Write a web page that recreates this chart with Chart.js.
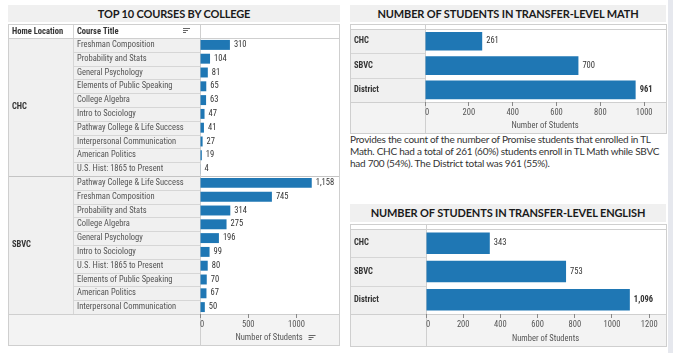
<!DOCTYPE html>
<html><head><meta charset="utf-8">
<script src="https://cdn.jsdelivr.net/npm/chart.js@4.4.0/dist/chart.umd.min.js"></script>
<style>
html,body{margin:0;padding:0;background:#fff;width:673px;height:353px;overflow:hidden;font-family:Lato,'Liberation Sans',sans-serif;}
.band{position:absolute;background:#f0f0f0;color:#1a1a1a;font-weight:bold;font-size:11px;letter-spacing:-0.15px;text-align:center;white-space:nowrap;}
canvas{position:absolute;}
#strip{position:absolute;left:668px;top:0;width:5px;height:353px;background:#e6e8ee;}
#note{position:absolute;left:350px;top:133px;font-size:10px;letter-spacing:-0.25px;line-height:12px;color:#333;white-space:nowrap;}
</style></head><body>
<div class="band" style="left:8px;top:5px;width:332px;height:17px;line-height:17px">TOP 10 COURSES BY COLLEGE</div>
<div class="band" style="left:350px;top:5px;width:316px;height:17px;line-height:17px">NUMBER OF STUDENTS IN TRANSFER-LEVEL MATH</div>
<div class="band" style="left:350px;top:204px;width:316px;height:18px;line-height:18px">NUMBER OF STUDENTS IN TRANSFER-LEVEL ENGLISH</div>
<div id="note">Provides the count of the number of Promise students that enrolled in TL<br>Math. CHC had a total of 261 (60%) students enroll in TL Math while SBVC<br>had 700 (54%). The District total was 961 (55%).</div>
<div id="strip"></div>
<canvas id="c1" width="332" height="322" style="left:8px;top:24px"></canvas>
<canvas id="c2" width="317" height="110" style="left:350px;top:24px"></canvas>
<canvas id="c3" width="317" height="123" style="left:350px;top:224px"></canvas>
<script>
// ---- data ----
const homeLocations = ['CHC', 'SBVC'];
const chcCourses = ['Freshman Composition','Probability and Stats','General Psychology','Elements of Public Speaking','College Algebra','Intro to Sociology','Pathway College & Life Success','Interpersonal Communication','American Politics','U.S. Hist: 1865 to Present'];
const chcCounts = [310,104,81,65,63,47,41,27,19,4];
const sbvcCourses = ['Pathway College & Life Success','Freshman Composition','Probability and Stats','College Algebra','General Psychology','Intro to Sociology','U.S. Hist: 1865 to Present','Elements of Public Speaking','American Politics','Interpersonal Communication'];
const sbvcCounts = [1158,745,314,275,196,99,80,70,67,50];
const courseTicks = [0,500,1000];
const mathLocations = ['CHC','SBVC','District'];
const mathCounts = [261,700,961];
const mathTicks = [0,200,400,600,800,1000];
const englishLocations = ['CHC','SBVC','District'];
const englishCounts = [343,753,1096];
const englishTicks = [0,200,400,600,800,1000,1200];

const FONT = "'Roboto Condensed', Lato, sans-serif";
const BLUE = '#1f77b4';
const CELL = '#f0f0f0', AXISBG = '#f3f3f3', LINE = '#d6d6d6', BORDER = '#cfcfcf';

function sortIcon(ctx, x, y){
  ctx.save(); ctx.strokeStyle = '#666'; ctx.lineWidth = 1;
  [[7,0],[5,2],[3,4]].forEach(([w,dy])=>{ctx.beginPath();ctx.moveTo(x, y+dy+0.5);ctx.lineTo(x+w, y+dy+0.5);ctx.stroke();});
  ctx.restore();
}
function hline(ctx,x1,x2,y,c){ctx.strokeStyle=c;ctx.lineWidth=1;ctx.beginPath();ctx.moveTo(x1,Math.round(y)+0.5);ctx.lineTo(x2,Math.round(y)+0.5);ctx.stroke();}
function vline(ctx,x,y1,y2,c){ctx.strokeStyle=c;ctx.lineWidth=1;ctx.beginPath();ctx.moveTo(Math.round(x)+0.5,y1);ctx.lineTo(Math.round(x)+0.5,y2);ctx.stroke();}

const framePlugin = {
  id: 'frame',
  beforeDraw(chart, args, o){
    const {ctx, chartArea: ca, width: W, height: H} = chart;
    const y = chart.scales.y;
    const n = chart.data.labels.length;
    const half = (y.getPixelForValue(1) - y.getPixelForValue(0)) / 2;
    ctx.save();
    ctx.fillStyle = '#fff'; ctx.fillRect(0,0,W,H);
    ctx.fillStyle = CELL; ctx.fillRect(0, ca.top, ca.left, ca.bottom - ca.top);
    ctx.fillStyle = AXISBG; ctx.fillRect(0, ca.bottom, W, H - ca.bottom);
    const sx = o.groupCol ? o.groupCol : 0;
    for (let i = 1; i < n; i++) {
      const py = y.getPixelForValue(i) - half;
      if (o.groupSize && i % o.groupSize === 0) hline(ctx, 0, W, py, '#c4c4c4');
      else hline(ctx, sx, ca.left, py, LINE);
    }
    if (o.groupCol) { vline(ctx, o.groupCol, 0, ca.bottom, LINE); }
    if (ca.top > 0) hline(ctx, 0, W, ca.top, BORDER);
    hline(ctx, 0, W, ca.bottom, BORDER);
    vline(ctx, ca.left, 0, H, BORDER);
    ctx.strokeStyle = BORDER; ctx.strokeRect(0.5, 0.5, W-1, H-1);
    ctx.restore();
  },
  afterDraw(chart, args, o){
    const {ctx, chartArea: ca} = chart;
    const y = chart.scales.y;
    ctx.save();
    ctx.fillStyle = '#333';
    ctx.font = 'bold 8.5px ' + FONT;
    ctx.textBaseline = 'middle';
    if (o.header) {
      ctx.fillText(o.header[0], 4, ca.top/2 + 0.5);
      ctx.fillText(o.header[1], o.groupCol + 4, ca.top/2 + 0.5);
      sortIcon(ctx, ca.left - 17, 4);
    }
    if (o.groups) {
      o.groups.forEach((g, gi) => {
        const c = y.getPixelForValue(gi*o.groupSize + (o.groupSize-1)/2);
        ctx.fillText(g, 4, c);
      });
    }
    if (o.titleIcon) {
      const x = chart.scales.x;
      ctx.font = '8.5px ' + FONT;
      const tw = ctx.measureText(x.options.title.text).width;
      sortIcon(ctx, (ca.left+ca.right)/2 + tw/2 + 6, chart.height - 11);
    }
    ctx.restore();
  },
  afterDatasetsDraw(chart, args, o){
    const {ctx} = chart;
    const meta = chart.getDatasetMeta(0);
    const data = chart.data.datasets[0].data;
    ctx.save();
    ctx.fillStyle = '#333';
    ctx.textBaseline = 'middle';
    meta.data.forEach((el, i) => {
      const bold = o.boldLabel && chart.data.labels[i] === o.boldLabel;
      ctx.font = (bold ? 'bold ' : '') + '8.5px ' + FONT;
      ctx.fillText(data[i].toLocaleString('en-US'), el.x + 4, el.y);
    });
    ctx.restore();
  }
};

function makeChart(id, labels, values, ticks, max, opt){
  return new Chart(document.getElementById(id), {
    type: 'bar',
    data: { labels: labels, datasets: [{ data: values, backgroundColor: BLUE, borderWidth: 0,
      barPercentage: opt.barPct, categoryPercentage: 1 }] },
    plugins: [framePlugin],
    options: {
      indexAxis: 'y', responsive: false, animation: false,
      layout: { padding: { left: opt.padLeft, top: opt.padTop || 0, right: 0, bottom: 0 } },
      plugins: { legend: {display:false}, tooltip: {enabled:false}, frame: opt.frame },
      scales: {
        y: {
          grid: {display:false}, border: {display:false},
          ticks: { autoSkip:false, crossAlign:'far', padding:0, color: opt.labelColor || '#555',
            font: { family: FONT, size: 8.5, weight: opt.labelWeight || 'normal' } },
          afterFit(s){ s.width = opt.yWidth; }
        },
        x: {
          min: 0, max: max,
          grid: { drawOnChartArea:false, drawTicks:true, tickLength:4,
            color: c => (c.index < ticks.length ? '#888' : 'rgba(0,0,0,0)') },
          border: { display:false },
          afterBuildTicks(s){ s.ticks = ticks.map(v => ({value: v})).concat([{value: max}]); },
          ticks: { padding: 2, color:'#555', maxRotation:0, autoSkip:false, align:'inner',
            font:{family:FONT, size:8.5},
            callback: (v, i) => (i < ticks.length ? String(v) : '') },
          title: { display:true, text:'Number of Students', color:'#555', font:{family:FONT, size:8.5}, padding:{top:0,bottom:3} },
          afterFit(s){ s.height = opt.axisH; }
        }
      }
    }
  });
}

makeChart('c1', chcCourses.concat(sbvcCourses), chcCounts.concat(sbvcCounts), courseTicks, 1430, {
  barPct: 0.72, padLeft: 69, padTop: 14, yWidth: 123, axisH: 32,
  frame: { groupCol: 65, groupSize: 10, groups: homeLocations, header: ['Home Location','Course Title'], titleIcon: true }
});
makeChart('c2', mathLocations, mathCounts, mathTicks, 1095, {
  barPct: 0.77, padLeft: 4, yWidth: 71, axisH: 32, labelWeight: 'bold', labelColor: '#333',
  frame: { boldLabel: 'District' }
});
makeChart('c3', englishLocations, englishCounts, englishTicks, 1285, {
  barPct: 0.76, padLeft: 4, yWidth: 72, axisH: 33, labelWeight: 'bold', labelColor: '#333',
  frame: { boldLabel: 'District' }
});
</script>
</body></html>
